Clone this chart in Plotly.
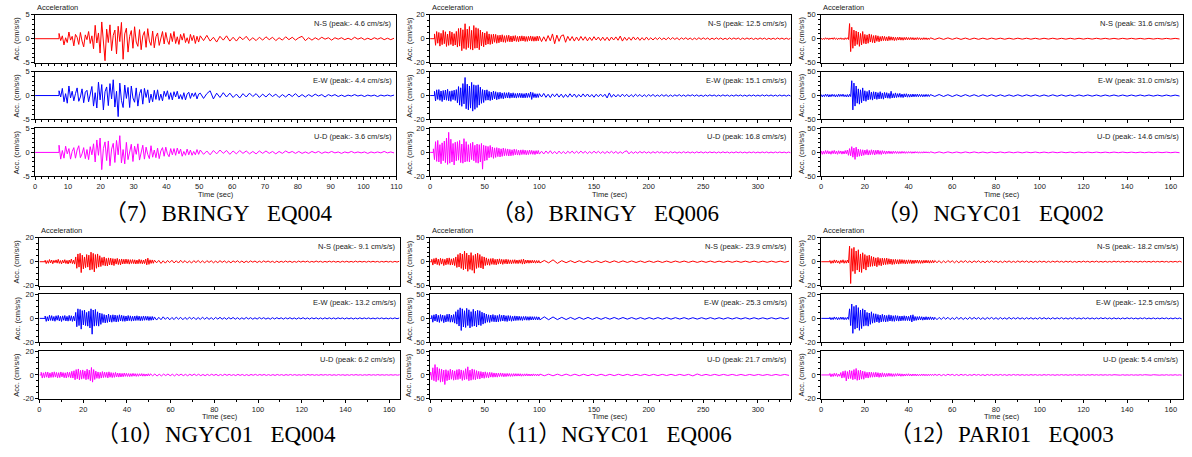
import plotly.graph_objects as go

# ---------------------------------------------------------------------------
# Acceleration records (cm/s/s). Each component is given as a strong-motion
# part sampled every `main_step` seconds from its onset, followed by the coda
# sampled every `coda_step` seconds.
# ---------------------------------------------------------------------------
captions = ["（7）BRINGY\u00a0\u00a0\u00a0EQ004", "（8）BRINGY\u00a0\u00a0\u00a0EQ006",
            "（9）NGYC01\u00a0\u00a0\u00a0EQ002", "（10）NGYC01\u00a0\u00a0\u00a0EQ004",
            "（11）NGYC01\u00a0\u00a0\u00a0EQ006", "（12）PARI01\u00a0\u00a0\u00a0EQ003"]
components = ["N-S", "E-W", "U-D"]
durations = [110, 330, 165.6, 165.1, 330, 165.6]          # record length (s)
main_step = [0.5, 1.0, 0.5, 0.5, 1.0, 0.5]
coda_step = [1.0, 2.0, 2.0, 1.0, 4.0, 1.0]
onsets = [[7.3, 7.3, 7.3], [4.0, 4.0, 3.0], [0.0, 0.0, 0.0],
          [2.6, 2.6, 0.8], [1.5, 1.5, 0.5], [4.0, 4.0, 4.0]]
amp_limits = [5, 20, 50, 20, 50, 20]
time_ticks = [10, 50, 20, 20, 50, 20]

# (7) BRINGY EQ004
eq7_ns = [1.1, -0.4, 0.6, -1.3, 0.2, -0.8, 1.4, -0.3, 0.5, -1.5,
          0.9, 0.3, -1.2, 1.3, -0.5, -1.7, 0.8, -0.2, 1.5, -1.0,
          0.6, -2.1, 2.8, -0.9, 1.2, -3.0, 3.5, -1.0, -4.6, 2.0,
          -0.8, 2.9, -2.5, 0.7, 1.8, -3.2, 2.6, -0.6, 3.4, -4.3,
          1.0, 2.2, -2.8, 0.5, 1.7, -2.0, 2.5, -0.7, -1.6, 1.9,
          -2.3, 0.6, 1.5, -1.8, 2.1, -0.5, -1.4, 1.6, -1.9, 0.4,
          1.2, -1.4, 0.3, 1.5, -1.1, 1.3, -0.4, -1.2, 1.1, -0.6,
          1.5, -1.0, 0.4, -1.2, 0.9, -0.3, 1.1, -0.8, 0.2, -1.0,
          0.9, -0.4, 0.7, -1.0, 0.5, -0.7]
eq7_ns_coda = [0.6, -0.4, 0.7, -0.5, 0.3, -0.7, 0.5, -0.3, 0.6, -0.5,
               0.3, -0.5, 0.4, -0.2, 0.5, -0.4, 0.2, -0.4, 0.3, -0.3,
               0.4, -0.2, 0.3, -0.4, 0.2, -0.3, 0.4, -0.2, 0.3, -0.3,
               0.2, 0.5, -0.4, 0.2, -0.3, 0.2, -0.2, 0.3, -0.1, 0.2,
               -0.3, 0.2, -0.1, 0.2, -0.2, 0.1, -0.2, 0.3, -0.1, 0.2,
               -0.2, 0.1, -0.2, 0.2, -0.1, 0.2, -0.2, 0.1, -0.2, 0.1]
eq7_ew = [1.0, -0.3, 1.5, -1.3, 0.4, -1.6, 2.0, -0.5, 0.9, -1.1,
          0.4, 1.6, -1.2, -0.3, 1.4, -1.5, 0.7, 1.1, -1.3, 0.5,
          1.9, -2.2, 0.6, -2.6, 2.8, -0.9, 2.3, -3.0, 0.8, 1.8,
          -2.1, 2.5, -0.7, 3.3, -2.4, 0.9, -4.4, 2.6, -1.0, -2.5,
          2.2, -0.6, 1.7, -2.5, 2.0, -0.5, -1.4, 1.6, -2.2, 0.4,
          1.3, -1.8, 1.5, -0.4, 1.2, -1.5, 0.3, -1.3, 1.1, -0.8,
          1.2, -1.0, 0.3, -1.1, 0.9, -0.2, 1.0, -0.8, 0.6, -0.9,
          0.8, -0.3, 0.9, -0.7, 0.2, -0.8, 0.6, -0.9, 0.3, 0.7,
          -0.6, 0.5, -0.2, 0.6, -0.7, 0.3]
eq7_ew_coda = [0.5, -0.6, 0.4, 1.0, -0.7, 0.5, -0.4, 0.6, -0.3, 0.5,
               -0.4, 0.3, -0.5, 0.4, -0.3, 0.5, -0.2, 0.4, -0.4, 0.3,
               -0.3, 0.4, -0.2, 0.3, -0.4, 0.2, -0.3, 0.3, -0.2, 0.4,
               -0.3, 0.2, -0.3, 0.2, -0.2, 0.3, -0.1, 0.2, -0.3, 0.2,
               -0.1, 0.2, -0.2, 0.1, -0.2, 0.1, -0.1, 0.2, -0.1, 0.1,
               -0.2, 0.1, -0.1, 0.1, -0.2, 0.1, -0.1, 0.1, -0.1, 0.1]
eq7_ud = [1.5, -1.4, 0.4, -1.2, 1.3, -0.3, 0.8, -1.4, 0.2, 1.0,
          -1.2, 0.5, 1.4, -1.1, -0.3, 1.0, -1.3, 0.6, -1.5, 1.2,
          -0.5, 1.8, -2.0, 2.6, -0.6, 3.0, -3.6, 0.8, 2.2, -1.7,
          2.4, -2.8, 0.7, 1.9, -2.1, 2.5, -0.5, 3.5, -2.2, 0.6,
          -2.4, 2.1, -1.5, 0.5, 1.7, -1.9, 1.3, -0.4, 1.8, -1.6,
          0.3, 1.5, -1.4, 1.1, -0.4, -1.3, 1.4, -1.0, 0.5, -1.1,
          0.9, -1.3, 0.3, 1.0, -0.8, 1.1, -0.3, -0.9, 0.8, -0.5,
          0.8, -0.6, 0.9, -0.3, 0.7, -0.8, 0.2, -0.6, 0.7, -0.5,
          0.5, -0.6, 0.2, -0.5, 0.6, -0.4]
eq7_ud_coda = [0.5, -0.4, 0.3, -0.5, 0.4, -0.3, 0.5, -0.2, 0.4, -0.4,
               0.3, -0.3, 0.4, -0.2, 0.3, -0.3, 0.2, -0.3, 0.3, -0.2,
               0.3, -0.2, 0.2, -0.3, 0.2, -0.2, 0.3, -0.1, 0.2, -0.2,
               0.2, -0.2, 0.1, -0.2, 0.2, -0.1, 0.2, -0.2, 0.1, -0.1,
               0.2, -0.1, 0.1, -0.2, 0.1, -0.1, 0.2, -0.1, 0.1, -0.1,
               0.1, -0.2, 0.1, -0.1, 0.1, -0.1, 0.2, -0.1, 0.1, -0.1]

# (8) BRINGY EQ006
eq8_ns = [4.0, -5.5, 6.0, -3.8, 5.2, -6.2, 4.5, -5.0, 7.0, -4.2,
          5.8, -6.5, 3.9, -5.6, 6.3, -4.8, 5.5, -6.0, 4.2, -5.3,
          6.1, -7.0, 8.5, -6.2, 9.0, -10.0, 7.5, -8.2, 12.5, -9.0,
          8.0, -7.5, 10.2, -8.8, 7.0, -9.5, 11.0, -8.0, 9.2, -7.8,
          8.5, -9.2, 7.2, -6.0, 5.5, -6.8, 4.8, -5.2, 6.0, -4.5,
          4.0, -4.8, 3.5, -4.2, 3.8, -3.0, 3.6, -3.8, 2.8, -3.4,
          3.0, -2.6, 3.3, -2.9, 2.5, -3.1, 2.7, -2.3, 2.9, -2.6,
          2.2, -2.7, 2.4, -2.0, 2.6, -2.3, 1.9, -2.5, 2.2, -2.0,
          2.4, -1.9, 2.1, -2.3, 1.8, -2.2, 2.0, -1.7, 2.3, -2.0,
          1.9, -2.1, 1.7, -2.0, 2.2, -1.8]
eq8_ns_coda = [2.0, -2.4, 1.6, -2.2, 2.6, -1.8, 4.0, -4.2, 3.0, -2.2,
               2.4, 3.2, -3.0, 2.0, -1.6, 1.8, -2.0, 1.4, -1.7, 1.9,
               -1.3, 1.6, -1.8, 1.2, -1.5, 1.7, -1.1, 1.4, -1.6, 1.3,
               -1.5, 1.2, -1.7, 1.4, -1.1, 1.5, -1.3, 2.2, -2.0, 1.2,
               -1.4, 1.1, -1.3, 1.5, -1.0, 1.2, -1.4, 0.9, -1.2, 1.3,
               -1.0, 0.8, -1.1, 0.9, -0.7, 1.0, -0.8, 0.6, -0.9, 1.0,
               -0.7, 0.9, -0.6, 0.8, -0.9, 0.7, -0.5, 0.8, -0.7, 0.6,
               -0.8, 0.5, -0.7, 0.8, -0.6, 0.7, -0.5, 0.6, -0.8, 0.5,
               -0.6, 0.7, -0.5, 0.6, -0.7, 0.4, -0.6, 0.7, -0.5, 0.6,
               -0.4, 0.6, -0.7, 0.5, -0.5, 0.6, -0.4, 0.5, -0.6, 0.4,
               -0.5, 0.6, -0.4, 0.5, -0.6, 0.4, -0.5, 0.4, -0.5, 0.6,
               -0.4, 0.5, -0.5, 0.4, -0.5, 0.4]
eq8_ew = [3.5, -4.5, 4.8, -3.2, 5.0, -4.0, 3.8, -5.0, 4.2, -3.6,
          4.6, -3.9, 5.2, -4.4, 3.6, -4.8, 4.0, -3.4, 4.5, -4.1,
          5.0, -6.0, 7.5, -8.0, 6.5, -9.0, 10.0, -7.0, 15.1, -11.0,
          9.5, -12.0, 8.0, -10.5, 11.0, -13.0, 9.0, -11.5, 8.5, -10.0,
          9.0, -8.0, 7.0, -6.5, 5.0, -5.8, 4.5, -4.0, 4.8, -3.8,
          3.5, -4.2, 3.0, -3.6, 3.8, -2.8, 3.2, -3.5, 2.6, -3.0,
          2.8, -2.4, 2.2, -2.7, 2.5, -2.1, 2.3, -2.0, 2.6, -2.2,
          2.0, -1.8, 2.3, -1.9, 1.7, -2.1, 1.9, -1.6, 2.0, -1.8,
          1.8, -2.0, 1.6, -1.9, 2.1, -1.7, 1.8, -1.5, 3.0, -3.2,
          2.5, -1.7, 1.6, -1.8, 1.5, -1.6]
eq8_ew_coda = [1.6, -1.2, 1.8, -1.5, 1.1, -1.7, 1.4, -1.0, 1.5, -1.3,
               1.2, -1.6, 1.0, -1.4, 1.5, -1.1, 1.3, -1.5, 0.9, -1.2,
               1.4, -1.0, 1.3, -1.2, 0.9, -1.4, 1.1, -1.0, 1.2, -0.9,
               1.1, -2.0, 2.2, -1.4, 1.0, -1.2, 0.9, -1.1, 1.2, -0.8,
               1.0, -1.1, 0.8, -1.0, 1.1, -0.7, 0.9, -1.0, 0.7, -0.9,
               0.8, -0.6, 0.9, -0.8, 0.5, -0.7, 0.8, -0.6, 0.7, -0.8,
               0.5, -0.7, 0.6, -0.5, 0.8, -0.6, 0.5, -0.7, 0.6, -0.4,
               0.7, -0.5, 0.6, -0.6, 0.4, -0.7, 0.5, -0.5, 0.6, -0.4,
               0.5, -0.6, 0.4, -0.5, 0.6, -0.4, 0.5, -0.6, 0.4, -0.5,
               0.6, -0.4, 0.5, -0.5, 0.4, -0.6, 0.5, -0.4, 0.5, -0.5,
               0.4, -0.5, 0.6, -0.4, 0.5, -0.4, 0.5, -0.5, 0.4, -0.5,
               0.5, -0.4, 0.4, -0.5, 0.4, -0.4]
eq8_ud = [3.0, -6.0, 9.0, -7.5, 10.0, -8.0, 6.5, -9.5, 8.0, -7.0,
          9.5, -8.5, 12.0, -10.0, 16.8, -9.0, 11.0, -8.0, 7.5, -10.5,
          8.5, -7.0, 9.0, -6.5, 10.0, -8.5, 7.0, -9.0, 11.5, -8.0,
          9.0, -7.5, 6.5, -8.0, 7.5, -6.0, 8.5, -7.0, 6.0, -8.5,
          7.0, -9.0, 6.5, -8.0, 7.5, -14.0, 6.0, -7.0, 5.5, -6.5,
          5.0, -4.5, 5.8, -4.0, 4.5, -5.0, 3.8, -4.2, 4.0, -3.5,
          3.5, -3.8, 3.0, -3.3, 3.6, -2.8, 3.1, -2.6, 2.9, -3.0,
          2.5, -2.8, 2.2, -2.5, 2.7, -2.0, 2.4, -2.2, 1.9, -2.3,
          2.1, -1.8, 2.2, -1.7, 1.9, -2.0, 1.6, -1.8, 2.0, -1.5,
          1.7, -1.6, 1.4, -1.8, 1.5, -1.3, 1.6]
eq8_ud_coda = [-1.4, 1.0, -1.3, 1.2, -0.9, 1.4, -1.1, 0.8, -1.2, 1.1,
               -1.0, 0.8, -1.2, 1.0, -0.7, 1.1, -0.9, 1.0, -0.8, 1.1,
               -0.7, 0.9, -1.0, 0.7, -0.8, 1.0, -0.6, 0.9, -0.8, 0.7,
               -0.9, 0.8, -0.6, 0.9, -0.7, 0.8, -0.9, 0.6, -0.8, 0.7,
               1.3, -1.2, 0.7, -0.8, 0.6, -0.7, 0.8, -0.5, 0.7, -0.6,
               0.5, -0.7, 0.6, -0.5, 0.7, -0.4, 0.6, -0.6, 0.4, -0.6,
               0.6, -0.4, 0.5, -0.6, 0.4, -0.5, 0.6, -0.4, 0.5, -0.5,
               0.4, -0.5, 0.5, -0.3, 0.5, -0.5, 0.4, -0.4, 0.5, -0.3,
               0.4, -0.5, 0.4, -0.4, 0.5, -0.3, 0.4, -0.5, 0.3, -0.4,
               0.5, -0.3, 0.4, -0.4, 0.3, -0.5, 0.4, -0.3, 0.4, -0.4,
               0.3, -0.4, 0.4, -0.3, 0.4, -0.4, 0.3, -0.4, 0.4, -0.3,
               0.4, -0.3, 0.3, -0.4, 0.3, -0.3]

# (9) NGYC01 EQ002
eq9_ns = [1.2, -1.8, 0.9, -1.5, 2.0, -1.1, 1.6, -2.0, 1.3, -0.9,
          1.7, -1.4, 2.2, -1.2, 1.0, -1.9, 1.5, -1.1, 1.8, -1.6,
          1.1, -2.1, 1.9, -1.3, 2.0, -1.7,
          31.6, -27.0, 24.0, -20.0,
          18.0, -15.0, 16.0, -12.0, 14.0, -16.0, 11.0, -13.0, 15.0, -10.0,
          9.0, -11.0, 8.0, -9.5, 10.0, -7.0, 8.5, -8.0, 6.5, -9.0,
          7.0, -5.5, 6.0, -6.5, 4.5, -5.0, 5.5, -4.0, 4.8, -4.2,
          3.8, -4.5, 5.0, -3.5, 4.0, -3.2, 3.6, -4.0, 3.0, -3.4,
          3.2, -2.8, 3.5, -3.0, 2.6, -3.2, 2.8, -2.4, 3.0, -2.6,
          2.4, -2.2, 2.6, -2.0, 2.3, -2.5, 1.9, -2.1, 2.4, -1.8,
          2.0, -2.2, 1.7, -1.9, 2.1, -1.6, 1.8, -2.0, 1.5, -1.7]
eq9_ns_coda = [1.8, -1.5, 1.6, -1.4, 1.7, -1.3, 1.5, -1.4, 1.3, -1.5,
               1.2, -1.3, 1.1, -1.2, 1.2, -1.0, 1.1, -1.1, 1.0, -1.0,
               1.1, -0.9, 1.0, -1.0, 0.9, -1.0, 0.9, -0.8, 1.0, -0.9,
               0.8, -0.9, 0.9, -0.8, 0.9, -0.8, 0.8, -0.8, 0.9, -0.7,
               0.8, -0.8, 0.7, -0.8, 0.8, -0.7, 0.8, -0.7, 0.7, -0.7,
               0.7, -0.7, 0.6, -0.7, 0.7, -0.6, 0.7, -0.6]
eq9_ew = [2.0, -2.8, 1.5, -2.2, 3.0, -1.8, 2.5, -3.0, 1.9, -2.4,
          2.7, -1.6, 2.2, -2.9, 1.8, -2.5, 3.1, -2.0, 2.4, -1.7,
          2.9, -2.3, 1.6, -2.7, 2.2, -3.0, 2.6, -2.0,
          31.0, -30.0, 26.0, -22.0,
          20.0, -16.0, 14.0, -18.0, 12.0, -15.0, 16.0, -11.0,
          10.0, -12.0, 8.5, -9.0, 11.0, -8.0, 7.5, -9.5, 8.0, -7.0,
          7.5, -8.0, 6.0, -7.0, 8.0, -6.5, 5.5, -7.5, 6.5, -5.0,
          6.0, -5.5, 4.5, -6.0, 9.0, -5.0, 4.0, -4.8, 5.5, -4.2,
          4.0, -3.5, 4.6, -3.8, 3.2, -4.2, 3.6, -3.0, 3.8, -3.4,
          3.0, -3.3, 2.7, -3.0, 3.2, -2.6, 2.8, -2.4, 3.0, -2.5,
          2.6, -2.2, 2.4, -2.6, 2.1, -2.3, 2.5, -2.0, 2.2, -2.1]
eq9_ew_coda = [2.0, -1.8, 2.2, -1.9, 1.8, -2.0, 1.7, -1.8, 1.9, -1.6,
               1.7, -1.8, 1.6, -1.5, 1.7, -1.6, 1.5, -1.6, 1.4, -1.5,
               1.6, -1.4, 1.5, -1.3, 1.4, -1.5, 1.3, -1.4, 1.5, -1.3,
               1.4, -1.3, 1.2, -1.4, 1.3, -1.2, 1.3, -1.2, 1.2, -1.3,
               1.2, -1.1, 1.2, -1.2, 1.1, -1.2, 1.1, -1.1, 1.2, -1.0,
               1.1, -1.1, 1.0, -1.1, 1.1, -1.0, 1.0, -1.0]
eq9_ud = [3.0, -4.0, 2.5, -3.5, 4.0, -2.8, 3.6, -3.0, 2.2, -3.8,
          3.4, -2.6, 4.2, -3.2, 2.8, -3.9, 3.5, -2.4, 3.0, -3.6,
          2.6, -3.3, 4.0, -2.9, 5.0, -6.0, 8.0, -7.0,
          12.0, -10.0, 9.0, -14.6, 11.0, -9.0,
          7.0, -8.0, 6.0, -7.5, 5.5, -6.0,
          5.0, -4.5, 6.0, -5.5, 4.0, -5.0, 5.5, -4.2, 4.8, -5.2,
          4.5, -3.8, 5.0, -4.0, 3.5, -4.4, 3.8, -3.0, 3.2, -3.6,
          2.8, -2.4, 3.0, -2.6, 2.2, -2.8, 2.5, -2.0, 2.4, -2.2,
          2.0, -2.3, 1.8, -2.1, 2.2, -1.7, 1.9, -2.0, 1.6, -1.8,
          1.8, -1.5, 1.7, -1.9, 1.4, -1.6, 1.8, -1.3, 1.5, -1.7,
          1.4, -1.6, 1.3, -1.5, 1.6, -1.2, 1.4, -1.3, 1.2, -1.5]
eq9_ud_coda = [1.3, -1.2, 1.1, -1.2, 1.1, -1.0, 0.9, -1.1, 1.0, -0.9,
               1.0, -0.9, 0.8, -1.0, 0.9, -0.8, 0.9, -0.8, 0.9, -0.8,
               0.8, -0.9, 0.8, -0.7, 0.8, -0.8, 0.7, -0.8, 0.8, -0.7,
               0.8, -0.7, 0.7, -0.8, 0.7, -0.7, 0.7, -0.6, 0.7, -0.7,
               0.6, -0.7, 0.7, -0.6, 0.7, -0.6, 0.6, -0.7, 0.6, -0.6,
               0.6, -0.6, 0.6, -0.5, 0.6, -0.6, 0.5, -0.6]

# (10) NGYC01 EQ004
eq10_ns = [1.2, -1.6, 0.9, -1.3, 1.8, -1.0, 1.4, -1.7, 1.1, -0.8,
           1.5, -1.2, 2.0, -1.4, 1.0, -1.8, 1.3, -1.1, 1.7, -1.5,
           1.1, -1.9, 1.4, -1.2, 2.2, -1.6, 1.3, -2.0,
           4.0, -5.5, 6.5, -4.5, 7.0, -9.1, 5.5, -6.0, 4.0, -5.0, 6.0, -4.5,
           5.5, -7.0, 8.0, -6.5, 7.0, -8.5, 6.0, -5.5, 6.5, -4.5, 5.0, -4.0,
           3.5, -3.0, 4.0, -3.4, 2.8, -3.6, 3.2, -2.6, 3.0, -2.8,
           2.6, -3.2, 2.4, -2.0, 2.8, -2.4, 2.0, -2.6, 2.3, -1.9,
           2.0, -1.8, 2.2, -1.6, 1.9, -2.0, 1.7, -1.5, 1.8, -1.6,
           1.6, -1.9, 1.4, -1.7, 2.0, -1.5, 1.6, -1.8, 1.4, -1.6,
           2.2, -2.6, 3.0, -2.2, 1.6, -1.4, 1.5, -1.3]
eq10_ns_coda = [1.3, -0.9, 1.1, -1.4, 0.8, -1.2, 1.0, -0.7, 1.2, -1.0,
                0.8, -1.1, 1.2, -0.8, 0.9, -1.0, 0.6, -1.1, 0.9, -0.7,
                1.0, -0.8, 0.7, -1.0, 0.9, -0.6, 0.8, -0.9, 0.5, -0.8,
                0.9, -0.6, 0.7, -0.8, 0.5, -0.9, 0.7, -0.5, 0.8, -0.7,
                0.6, -0.8, 0.5, -0.6, 0.7, -0.4, 0.6, -0.7, 0.5, -0.6,
                0.7, -0.4, 0.6, -0.5, 0.4, -0.7, 0.5, -0.6, 0.4, -0.5,
                0.6, -0.4, 0.5, -0.6, 0.3, -0.5, 0.6, -0.4, 0.5, -0.3,
                0.5, -0.5, 0.3, -0.4, 0.6, -0.3, 0.4, -0.5, 0.3, -0.4,
                0.5, -0.3, 0.4, -0.4, 0.3, -0.5, 0.4, -0.3, 0.4, -0.4,
                0.3, -0.4, 0.5, -0.3, 0.4, -0.3, 0.3, -0.4, 0.4, -0.3,
                0.4, -0.3, 0.3, -0.4, 0.3, -0.3, 0.4, -0.3, 0.3, -0.4,
                0.3, -0.3, 0.4]
eq10_ew = [2.0, -2.5, 1.4, -2.2, 2.6, -1.7, 2.3, -2.0, 1.6, -2.4,
           2.2, -1.5, 2.5, -2.1, 1.8, -2.6, 2.1, -1.6, 2.4, -2.2,
           1.7, -2.3, 2.5, -1.9, 2.2, -2.5, 1.8, -2.1,
           5.0, -7.0, 8.0, -6.0, 7.5, -9.0, 6.5, -5.5, 7.0, -6.0, 5.0, -6.5,
           6.0, -8.0, 8.0, -13.2, 7.0, -6.5, 7.5, -6.0, 5.5, -6.5, 4.5, -5.0,
           4.0, -3.5, 3.2, -3.8, 2.8, -3.4, 3.6, -3.0, 2.6, -3.2,
           3.0, -2.6, 2.8, -3.0, 2.4, -2.7, 3.0, -2.2, 2.6, -2.4,
           2.2, -2.5, 2.0, -2.2, 2.4, -1.9, 2.1, -2.3, 1.8, -2.0,
           2.0, -1.8, 2.2, -1.7, 1.9, -2.0, 1.6, -1.8, 2.0, -1.6,
           1.8, -1.5, 1.7, -1.8, 1.5, -1.6, 1.6, -1.4]
eq10_ew_coda = [1.2, -1.4, 0.9, -1.1, 1.3, -0.8, 1.0, -1.2, 0.8, -1.0,
                1.1, -0.7, 0.9, -1.1, 0.8, -0.9, 1.0, -0.6, 0.9, -1.0,
                0.7, -0.9, 1.0, -0.7, 0.8, -0.8, 0.6, -0.9, 0.8, -0.6,
                0.9, -0.7, 0.6, -0.8, 0.7, -0.5, 0.8, -0.7, 0.6, -0.8,
                0.5, -0.7, 0.8, -0.5, 0.6, -0.7, 0.5, -0.6, 0.7, -0.4,
                0.6, -0.6, 0.4, -0.7, 0.6, -0.5, 0.6, -0.4, 0.5, -0.6,
                0.5, -0.4, 0.6, -0.5, 0.4, -0.6, 0.5, -0.4, 0.6, -0.5,
                0.4, -0.6, 0.5, -0.4, 0.5, -0.5, 0.4, -0.5, 0.5, -0.4,
                0.5, -0.4, 0.4, -0.5, 0.5, -0.3, 0.4, -0.5, 0.4, -0.4,
                0.4, -0.5, 0.3, -0.4, 0.5, -0.4, 0.4, -0.3, 0.4, -0.4,
                0.3, -0.4, 0.4, -0.3, 0.4, -0.4, 0.3, -0.4, 0.3, -0.3,
                0.4, -0.3, 0.3]
eq10_ud = [2.2, -2.6, 1.8, -2.3, 2.5, -1.9, 2.4, -2.5, 1.7, -2.1,
           2.3, -2.0, 2.6, -1.8, 2.1, -2.4, 1.9, -2.2, 2.5, -1.6,
           2.0, -2.3, 1.8, -2.5, 2.4, -1.9, 2.2, -2.4, 3.0, -2.6,
           3.5, -4.0, 4.5, -3.2, 5.0, -4.2, 3.8, -3.5, 4.2, -3.0,
           3.4, -4.0, 4.8, -3.6, 4.0, -4.8, 6.2, -6.0, 4.5, -3.8,
           3.2, -2.8, 2.5, -3.0, 2.2, -2.6, 2.8, -2.2, 2.4, -2.0,
           2.2, -2.5, 2.6, -1.9, 2.0, -2.2, 1.8, -2.0, 2.1, -1.7,
           1.6, -1.8, 1.5, -1.7, 1.3, -1.5, 1.6, -1.2, 1.4, -1.3,
           1.2, -1.4, 1.1, -1.2, 1.3, -1.0, 1.1, -1.2, 1.0, -1.1,
           1.0, -0.9, 1.1, -1.0, 0.9, -1.0, 0.8, -0.9, 1.0, -0.8]
eq10_ud_coda = [0.9, -0.7, 0.8, -0.9, 0.6, -0.8, 0.7, -0.5, 0.8, -0.7,
                0.6, -0.8, 0.7, -0.5, 0.7, -0.6, 0.5, -0.7, 0.6, -0.5,
                0.7, -0.5, 0.6, -0.6, 0.4, -0.6, 0.5, -0.5, 0.6, -0.4,
                0.5, -0.6, 0.4, -0.5, 0.6, -0.4, 0.5, -0.4, 0.3, -0.5,
                0.5, -0.4, 0.4, -0.5, 0.3, -0.5, 0.4, -0.3, 0.5, -0.4,
                0.4, -0.3, 0.4, -0.4, 0.3, -0.4, 0.3, -0.4, 0.4, -0.3,
                0.3, -0.4, 0.3, -0.3, 0.4, -0.3, 0.3, -0.3, 0.2, -0.3,
                0.3, -0.3, 0.4, -0.2, 0.3, -0.3, 0.2, -0.3, 0.3, -0.2,
                0.3, -0.2, 0.3, -0.3, 0.2, -0.3, 0.3, -0.2, 0.2, -0.3,
                0.2, -0.3, 0.3, -0.2, 0.3, -0.2, 0.2, -0.3, 0.2, -0.2,
                0.3, -0.2, 0.2, -0.2, 0.3, -0.2, 0.2, -0.2, 0.2, -0.2,
                0.2, -0.2, 0.2, -0.2, 0.2]

# (11) NGYC01 EQ006
eq11_ns = [5.0, -7.0, 6.5, -4.5, 8.0, -6.0, 5.5, -7.5, 7.0, -5.0,
           6.0, -8.0, 5.0, -6.5, 7.5, -5.5, 8.0, -7.0, 6.0, -6.8,
           7.0, -8.0, 10.0, -12.0, 15.0, -11.0, 18.0, -14.0, 16.0, -17.0,
           22.0, -15.0, 18.0, -20.0, 14.0, -16.0, 19.0, -18.0, 13.0, -23.9,
           16.0, -14.0, 18.0, -12.0, 15.0, -13.0, 11.0, -15.0, 10.0, -8.0,
           8.0, -7.0, 6.0, -7.5, 6.5, -5.5, 7.0, -6.0, 5.0, -6.5,
           5.5, -5.0, 6.0, -4.5, 5.0, -5.5, 4.5, -4.0, 5.2, -4.8,
           4.5, -4.0, 3.8, -4.4, 4.0, -3.5, 4.2, -3.8, 3.5, -4.0,
           3.8, -3.2, 4.5, -5.0, 5.5, -4.5, 3.5, -3.0, 3.6, -3.2,
           3.0, -2.8, 3.2, -2.6, 2.8, -3.0, 2.5, -2.7, 2.4]
eq11_ns_coda = [-2.5, 2.6, -2.4, 4.0, -3.5, 2.2, -2.0, 2.1, -1.9, 2.0,
                -1.8, 1.9, -1.8, 1.7, -1.8, 1.6, -1.7, 1.8, -1.6, 1.7,
                -1.5, 1.6, -1.6, 1.5, -1.6, 1.5, -1.4, 1.5, -1.5, 1.4,
                -1.5, 1.4, -1.3, 1.4, -1.4, 1.3, -1.4, 1.3, -1.3, 1.4,
                -1.3, 1.2, -1.3, 1.3, -1.2, 1.3, -1.2, 1.2, -1.3, 1.2,
                -1.2, 1.1, -1.2, 1.2, -1.1, 1.2, -1.1, 1.1]
eq11_ew = [6.0, -8.0, 7.5, -5.5, 9.0, -7.0, 6.5, -8.5, 8.0, -6.0,
           7.0, -9.0, 6.0, -7.5, 8.5, -6.5, 9.0, -8.0, 7.0, -7.8,
           8.0, -10.0, 14.0, -12.0, 18.0, -16.0, 22.0, -25.3, 20.0, -18.0,
           16.0, -19.0, 21.0, -15.0, 18.0, -20.0, 14.0, -17.0, 19.0, -16.0,
           15.0, -18.0, 17.0, -14.0, 16.0, -15.0, 13.0, -12.0, 11.0, -10.0,
           9.0, -8.0, 7.5, -8.5, 7.0, -6.5, 8.0, -7.0, 6.5, -7.5,
           6.0, -7.0, 8.0, -6.0, 6.5, -5.5, 7.0, -6.0, 5.5, -6.5,
           6.0, -5.0, 5.5, -6.0, 4.5, -5.0, 5.2, -4.5, 4.8, -4.2,
           4.5, -4.0, 3.8, -4.4, 4.0, -3.6, 4.2, -3.8, 3.5, -4.0,
           3.8, -3.4, 3.6, -3.2, 3.5, -3.0, 3.4, -3.2, 3.0]
eq11_ew_coda = [-3.0, 3.2, -2.8, 3.0, -2.5, 2.2, -2.4, 2.0, -2.2, 2.1,
                -1.9, 2.0, -2.0, 1.8, -1.9, 1.8, -1.7, 1.9, -1.7, 1.8,
                -1.6, 1.7, -1.7, 1.6, -1.7, 1.6, -1.5, 1.6, -1.6, 1.5,
                -1.6, 1.5, -1.4, 1.5, -1.5, 1.4, -1.5, 1.4, -1.4, 1.5,
                -1.4, 1.3, -1.4, 1.4, -1.3, 1.4, -1.3, 1.3, -1.4, 1.3,
                -1.3, 1.2, -1.3, 1.3, -1.2, 1.3, -1.2, 1.2]
eq11_ud = [6.0, -10.0, 15.0, -12.0, 21.7, -14.0, 16.0, -11.0, 13.0, -15.0,
           12.0, -14.0, 10.0, -20.0, 11.0, -12.0, 9.0, -10.5, 12.0, -9.0,
           10.0, -11.0, 8.5, -10.0, 11.0, -9.5, 12.0, -8.0, 10.5, -11.5,
           9.0, -10.0, 13.0, -9.0, 17.0, -12.0, 10.0, -11.0, 12.5, -9.5,
           11.0, -10.0, 9.0, -8.0, 7.5, -8.5, 7.0, -6.5, 6.0, -7.0,
           6.5, -5.5, 5.0, -6.0, 5.5, -4.5, 5.0, -4.8, 4.2, -4.5,
           4.0, -4.6, 3.8, -3.5, 4.2, -3.2, 3.6, -3.8, 3.0, -3.4,
           3.2, -2.8, 3.0, -3.1, 2.6, -2.9, 2.8, -2.5, 2.7, -2.4,
           2.6, -2.3, 2.5, -2.6, 2.2, -2.4, 2.3, -2.0, 2.4, -2.1,
           2.0, -2.2, 1.9, -2.1, 2.2, -1.8, 2.0, -1.9, 1.8, -2.0]
eq11_ud_coda = [1.8, -1.7, 1.6, -1.8, 1.6, -1.5, 1.7, -1.5, 1.5, -1.6,
                1.4, -1.5, 1.5, -1.4, 1.4, -1.5, 1.3, -1.4, 1.4, -1.3,
                1.3, -1.4, 1.3, -1.2, 1.3, -1.3, 1.2, -1.3, 1.2, -1.2,
                1.3, -1.2, 1.2, -1.1, 1.2, -2.0, 2.0, -1.2, 1.1, -1.1,
                1.2, -1.1, 1.1, -1.0, 1.1, -1.1, 1.0, -1.1, 1.0, -1.0,
                1.0, -1.0, 0.9, -1.0, 1.0, -0.9, 1.0, -0.9]

# (12) PARI01 EQ003
eq12_ns = [1.0, -1.4, 0.8, -1.2, 1.5, -0.9, 1.3, -1.1, 0.7, -1.5,
           1.2, -0.8, 1.6, -1.3, 1.0, -1.2, 1.4, -1.0,
           13.0, -18.2, 11.0, -8.0, 12.0, -10.0,
           9.0, -7.0, 10.0, -8.5, 6.5, -9.0, 7.5, -6.0,
           6.0, -7.0, 5.0, -4.5, 5.5, -4.0, 4.5, -3.8,
           4.0, -3.5, 3.2, -4.2, 3.6, -3.0, 2.8, -3.4, 3.0, -2.6,
           2.8, -2.4, 3.0, -2.2, 2.5, -2.0, 2.2, -2.4, 1.9, -2.1,
           2.0, -1.8, 1.7, -2.0, 1.9, -1.6, 1.8, -1.5, 1.6, -1.8,
           1.5, -1.7, 1.6, -1.4, 1.5, -1.6, 1.3, -1.5, 1.4, -1.2,
           1.4, -1.3, 1.2, -1.4, 1.1, -1.3, 1.2, -1.1, 1.3, -1.0,
           1.1, -1.2, 1.0, -1.1, 1.2, -0.9]
eq12_ns_coda = [1.0, -0.8, 0.9, -1.1, 0.7, -0.9, 1.0, -0.6, 0.8, -0.9,
                0.7, -0.9, 0.8, -0.6, 0.9, -0.7, 0.6, -0.8, 0.7, -0.5,
                0.8, -0.7, 0.5, -0.8, 0.7, -0.6, 0.8, -0.5, 0.6, -0.7,
                0.5, -0.7, 0.6, -0.5, 0.7, -0.6, 0.4, -0.6, 0.7, -0.5,
                0.6, -0.4, 0.6, -0.6, 0.5, -0.6, 0.4, -0.5, 0.6, -0.4,
                0.5, -0.6, 0.4, -0.5, 0.5, -0.4, 0.6, -0.4, 0.4, -0.5,
                0.5, -0.4, 0.5, -0.5, 0.3, -0.5, 0.4, -0.4, 0.5, -0.3,
                0.4, -0.5, 0.4, -0.3, 0.5, -0.4, 0.3, -0.4, 0.4, -0.4,
                0.3, -0.4, 0.5, -0.3, 0.4, -0.4, 0.3, -0.4, 0.4, -0.3,
                0.4, -0.3, 0.3, -0.4, 0.4, -0.3, 0.4, -0.3, 0.3, -0.4,
                0.4, -0.3, 0.3, -0.3, 0.4, -0.3, 0.3, -0.4, 0.3, -0.3,
                0.3, -0.3, 0.4, -0.3]
eq12_ew = [0.8, -1.1, 0.6, -1.0, 1.2, -0.7, 0.9, -1.2, 0.7, -0.9,
           1.1, -0.8, 1.0, -1.1, 0.7, -1.0, 0.9, -0.8,
           8.0, -6.0, 12.0, -12.5, 10.0, -9.0,
           11.0, -8.0, 9.0, -10.0, 7.0, -8.5, 8.0, -6.5,
           7.0, -6.0, 5.0, -6.5, 4.5, -5.0, 5.5, -4.0,
           4.0, -3.5, 3.8, -3.0, 3.2, -3.6, 2.8, -3.0, 3.4, -2.6,
           2.8, -3.0, 2.4, -2.6, 3.0, -2.2, 2.6, -2.4, 2.2, -2.5,
           2.4, -2.0, 2.2, -2.3, 1.9, -2.1, 2.0, -1.8, 2.2, -1.9,
           2.0, -1.8, 1.8, -2.0, 2.6, -3.0, 3.0, -2.0, 1.6, -1.7,
           1.5, -1.4, 1.6, -1.3, 1.4, -1.5, 1.2, -1.3, 1.4, -1.2,
           1.2, -1.1, 1.3, -1.0, 1.1, -1.2]
eq12_ew_coda = [0.9, -1.1, 0.8, -0.9, 1.0, -0.7, 0.9, -1.0, 0.6, -0.9,
                1.0, -0.7, 0.8, -0.9, 0.6, -0.8, 0.9, -0.7, 0.8, -0.6,
                0.7, -0.8, 0.6, -0.9, 0.7, -0.5, 0.8, -0.7, 0.6, -0.8,
                0.7, -0.6, 0.5, -0.7, 0.8, -0.6, 0.6, -0.5, 0.7, -0.6,
                0.5, -0.7, 0.6, -0.5, 0.6, -0.6, 0.4, -0.6, 0.7, -0.5,
                0.6, -0.5, 0.4, -0.6, 0.6, -0.5, 0.5, -0.4, 0.6, -0.5,
                0.4, -0.6, 0.5, -0.4, 0.6, -0.5, 0.4, -0.5, 0.5, -0.4,
                0.5, -0.5, 0.4, -0.5, 0.4, -0.4, 0.5, -0.3, 0.5, -0.4,
                0.4, -0.5, 0.5, -0.4, 0.3, -0.5, 0.4, -0.4, 0.5, -0.3,
                0.4, -0.4, 0.3, -0.5, 0.4, -0.3, 0.5, -0.4, 0.3, -0.4,
                0.4, -0.4, 0.3, -0.4, 0.4, -0.3, 0.4, -0.4, 0.3, -0.4,
                0.4, -0.3, 0.3, -0.4]
eq12_ud = [1.2, -1.5, 0.9, -1.3, 1.4, -1.0, 1.3, -1.4, 0.8, -1.1,
           2.0, -2.6, 3.0, -2.2, 3.5, -5.0, 2.8, -3.2, 4.0, -3.0,
           3.5, -4.0, 4.5, -3.5, 5.4, -4.5, 3.8, -4.2, 4.0, -3.5,
           3.2, -3.6, 2.8, -2.4, 2.2, -2.6, 2.4, -2.0, 2.3, -1.9,
           2.0, -1.8, 2.2, -1.7, 1.9, -2.0, 1.6, -1.8, 1.8, -1.5,
           1.4, -1.6, 1.3, -1.2, 1.5, -1.1, 1.2, -1.3, 1.0, -1.2,
           1.1, -1.0, 1.2, -0.9, 1.0, -1.1, 0.9, -1.0, 0.8, -0.9,
           0.9, -0.8, 1.0, -0.8, 0.7, -0.9, 0.8, -0.7, 0.8, -0.8,
           0.7, -0.8, 0.6, -0.7, 0.8, -0.6, 0.7, -0.7, 0.6, -0.7,
           0.6, -0.6, 0.7, -0.5, 0.6, -0.6]
eq12_ud_coda = [0.6, -0.4, 0.5, -0.6, 0.4, -0.5, 0.6, -0.3, 0.5, -0.5,
                0.4, -0.5, 0.5, -0.3, 0.4, -0.5, 0.3, -0.4, 0.5, -0.3,
                0.4, -0.4, 0.3, -0.5, 0.4, -0.3, 0.4, -0.4, 0.3, -0.3,
                0.4, -0.3, 0.3, -0.4, 0.3, -0.3, 0.4, -0.2, 0.3, -0.3,
                0.3, -0.3, 0.2, -0.3, 0.3, -0.2, 0.3, -0.3, 0.2, -0.3,
                0.3, -0.2, 0.3, -0.2, 0.2, -0.3, 0.2, -0.2, 0.3, -0.2,
                0.2, -0.3, 0.2, -0.2, 0.3, -0.2, 0.2, -0.2, 0.2, -0.3,
                0.2, -0.2, 0.3, -0.2, 0.2, -0.2, 0.2, -0.2, 0.2, -0.2,
                0.2, -0.2, 0.2, -0.1, 0.2, -0.2, 0.2, -0.2, 0.1, -0.2,
                0.2, -0.2, 0.1, -0.2, 0.2, -0.2, 0.2, -0.1, 0.2, -0.2,
                0.2, -0.1, 0.2, -0.2, 0.1, -0.2, 0.2, -0.2, 0.1, -0.2,
                0.2, -0.2, 0.1, -0.2]

records = [
    [(eq7_ns, eq7_ns_coda), (eq7_ew, eq7_ew_coda), (eq7_ud, eq7_ud_coda)],
    [(eq8_ns, eq8_ns_coda), (eq8_ew, eq8_ew_coda), (eq8_ud, eq8_ud_coda)],
    [(eq9_ns, eq9_ns_coda), (eq9_ew, eq9_ew_coda), (eq9_ud, eq9_ud_coda)],
    [(eq10_ns, eq10_ns_coda), (eq10_ew, eq10_ew_coda), (eq10_ud, eq10_ud_coda)],
    [(eq11_ns, eq11_ns_coda), (eq11_ew, eq11_ew_coda), (eq11_ud, eq11_ud_coda)],
    [(eq12_ns, eq12_ns_coda), (eq12_ew, eq12_ew_coda), (eq12_ud, eq12_ud_coda)],
]

# ---------------------------------------------------------------------------
# Page geometry (pixels) and styling
# ---------------------------------------------------------------------------
W, H = 1192, 457
panel_x = [(33.3, 397.0), (431.0, 794.0), (824.7, 1189.0),
           (37.7, 401.0), (431.0, 794.0), (824.7, 1189.0)]
strip_tops = [[11.0, 69.0, 127.0], [238.5, 296.3, 354.0]]
strip_h = 48.8
ytitle_x = [15, 410, 805, 15, 410, 805]
caption_x = [218, 607, 995, 215, 615, 1006]
caption_y = [214, 439]
time_label_y = [194, 421]
y_minor = [1, 5, 10, 5, 10, 5]
x_minor = [2, 10, 10, 10, 10, 10]
colors = ["#ff0000", "#0000ff", "#ff00ff"]
small = dict(family="Liberation Sans, Arial, sans-serif", size=7.5, color="#222222")


def fx(px):
    return px / W


def fy(px):
    return 1 - px / H


fig = go.Figure()
annotations = []
layout_axes = {}
n = 0
for p in range(6):
    row = p // 3
    x0, x1 = panel_x[p]
    lim = amp_limits[p]
    for c in range(3):
        n += 1
        top = strip_tops[row][c]
        bot = top + strip_h
        main, coda = records[p][c]
        t0 = onsets[p][c]
        times = [t0 + i * main_step[p] for i in range(len(main))]
        t_coda = t0 + len(main) * main_step[p]
        times += [t_coda + j * coda_step[p] for j in range(len(coda))]
        vals = main + coda
        # quiet baseline before the onset, then the recorded motion
        xs = [0.0, t0] + times
        ys = [0.0, 0.0] + vals
        sfx = "" if n == 1 else str(n)
        fig.add_trace(go.Scatter(x=xs, y=ys, mode="lines", xaxis="x" + sfx, yaxis="y" + sfx,
                                 line=dict(color=colors[c], width=1), hoverinfo="skip",
                                 showlegend=False))
        layout_axes["xaxis" + sfx] = dict(
            domain=[fx(x0), fx(x1)], anchor="y" + sfx, range=[0, durations[p]],
            showline=True, mirror=True, linecolor="#000000", linewidth=1,
            showgrid=False, zeroline=False, ticks="outside", ticklen=3, tickwidth=1,
            tickcolor="#000000", tick0=0, dtick=time_ticks[p],
            minor=dict(ticks="outside", ticklen=2, dtick=x_minor[p], tick0=0, tickcolor="#000000"),
            showticklabels=(c == 2), tickfont=small, fixedrange=True)
        layout_axes["yaxis" + sfx] = dict(
            domain=[fy(bot), fy(top)], anchor="x" + sfx, range=[-lim, lim],
            showline=True, mirror=True, linecolor="#000000", linewidth=1,
            showgrid=False, zeroline=False, ticks="outside", ticklen=3, tickwidth=1,
            tickcolor="#000000", tickvals=[-lim, 0, lim], ticktext=[f"-{lim}", "0", f"{lim}"],
            minor=dict(ticks="outside", ticklen=2, dtick=y_minor[p], tick0=0, tickcolor="#000000"),
            tickfont=small, fixedrange=True)

        # component name and signed peak value taken from the record itself
        peak = max(vals, key=abs)
        peak_txt = f"peak:- {abs(peak):.1f}" if peak < 0 else f"peak: {peak:.1f}"
        annotations.append(dict(text=f"{components[c]} ({peak_txt} cm/s/s)", x=fx(x1 - 2),
                                y=fy(top + 2), xref="paper", yref="paper", xanchor="right",
                                yanchor="top", showarrow=False, font=small))
        annotations.append(dict(text="Acc. (cm/s/s)", x=fx(ytitle_x[p]), y=fy((top + bot) / 2),
                                xref="paper", yref="paper", textangle=-90, showarrow=False,
                                xanchor="center", yanchor="middle", font=small))
        if c == 0:
            annotations.append(dict(text="Acceleration", x=fx(x0), y=fy(top - 0.5),
                                    xref="paper", yref="paper", xanchor="left",
                                    yanchor="bottom", showarrow=False, font=small))
    annotations.append(dict(text="Time (sec)", x=fx((x0 + x1) / 2), y=fy(time_label_y[row]),
                            xref="paper", yref="paper", xanchor="center", yanchor="middle",
                            showarrow=False, font=small))
    annotations.append(dict(text=captions[p], x=fx(caption_x[p]), y=fy(caption_y[row]),
                            xref="paper", yref="paper", xanchor="center", yanchor="middle",
                            showarrow=False,
                            font=dict(family="Liberation Serif, Noto Sans CJK SC, serif",
                                      size=23, color="#000000")))

fig.update_layout(width=W, height=H, margin=dict(l=0, r=0, t=0, b=0),
                  paper_bgcolor="white", plot_bgcolor="white",
                  annotations=annotations, **layout_axes)
fig.write_html("out.html")
